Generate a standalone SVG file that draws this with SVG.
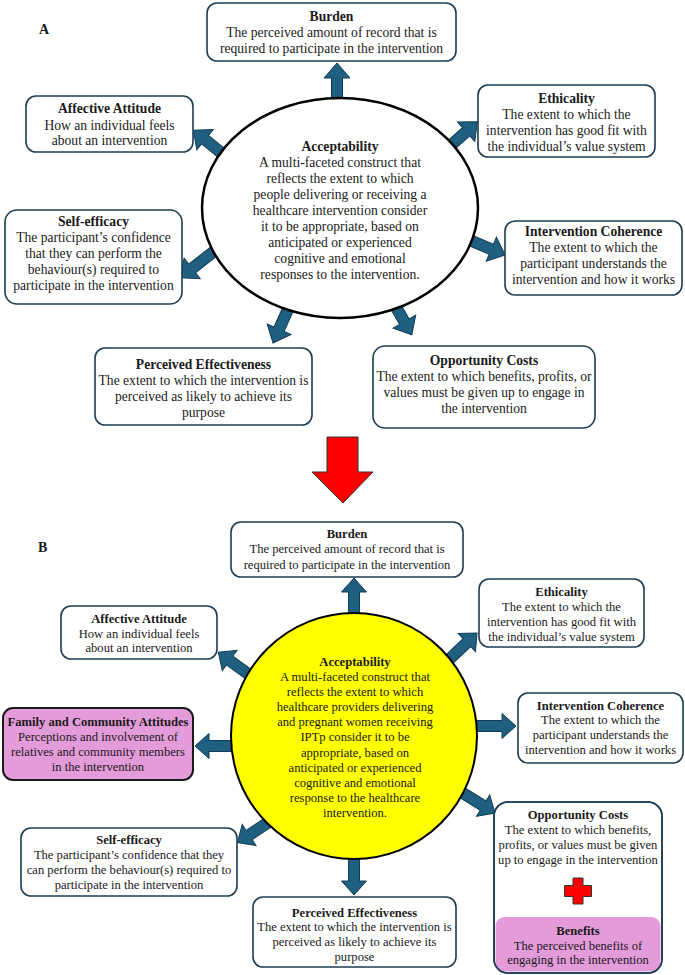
<svg xmlns="http://www.w3.org/2000/svg" width="685" height="975" viewBox="0 0 685 975">
<style>
.box{fill:#fff;stroke:#1d3d52;stroke-width:1.6}
.pink{fill:#e49bda}
.fam{fill:#e49bda;stroke:#1a1a1a;stroke-width:2}
.arr{fill:#1f5f80;stroke:#123c55;stroke-width:1}
text{font-family:"Liberation Serif","Times New Roman",serif;fill:#1a1a1a;text-anchor:middle}
.a{font-size:13.6px}
.b{font-size:12.6px}
.t{font-weight:bold}
.lbl{font-size:14px;font-weight:bold;text-anchor:start}
</style>
<rect width="685" height="975" fill="#fff"/>
<text class="lbl" x="39" y="34">A</text>
<text class="lbl" x="38" y="552">B</text>

<g id="connectors">
<path class="arr" transform="translate(337,108) rotate(-90)" d="M0,-5.5 H30 V-13 L45,0 L30,13 V5.5 H0 Z"/>
<path class="arr" transform="translate(240,168) rotate(-141)" d="M0,-5.5 H45 V-13 L60,0 L45,13 V5.5 H0 Z"/>
<path class="arr" transform="translate(440,155) rotate(-41.7)" d="M0,-5.5 H35 V-13 L50,0 L35,13 V5.5 H0 Z"/>
<path class="arr" transform="translate(460,236) rotate(22.9)" d="M0,-5.5 H34 V-13 L49,0 L34,13 V5.5 H0 Z"/>
<path class="arr" transform="translate(392,300) rotate(60.3)" d="M0,-5.5 H25 V-13 L40,0 L25,13 V5.5 H0 Z"/>
<path class="arr" transform="translate(292,300) rotate(113.8)" d="M0,-5.5 H32 V-13 L47,0 L32,13 V5.5 H0 Z"/>
<path class="arr" transform="translate(222,245) rotate(141.8)" d="M0,-5.5 H38 V-13 L53,0 L38,13 V5.5 H0 Z"/>

<path fill="#ff0000" stroke="#333" stroke-width="1" d="M327,437 H358 V472 H373 L343,503 L312,472 H327 Z"/>

<path class="arr" transform="translate(354,625) rotate(-90)" d="M0,-5.5 H33 V-12.5 L47,0 L33,12.5 V5.5 H0 Z"/>
<path class="arr" transform="translate(262,684) rotate(-144)" d="M0,-5.5 H40 V-12.5 L54,0 L40,12.5 V5.5 H0 Z"/>
<path class="arr" transform="translate(440,668) rotate(-43.4)" d="M0,-5.5 H37 V-12.5 L51,0 L37,12.5 V5.5 H0 Z"/>
<path class="arr" transform="translate(460,726) rotate(0)" d="M0,-5.5 H42 V-12.5 L56,0 L42,12.5 V5.5 H0 Z"/>
<path class="arr" transform="translate(450,785) rotate(31.9)" d="M0,-5.5 H39 V-12.5 L53,0 L39,12.5 V5.5 H0 Z"/>
<path class="arr" transform="translate(354,845) rotate(90)" d="M0,-5.5 H36 V-12.5 L50,0 L36,12.5 V5.5 H0 Z"/>
<path class="arr" transform="translate(275,818) rotate(146.7)" d="M0,-5.5 H31 V-12.5 L45,0 L31,12.5 V5.5 H0 Z"/>
<path class="arr" transform="translate(250,746) rotate(180)" d="M0,-5.5 H41 V-12.5 L55,0 L41,12.5 V5.5 H0 Z"/>
</g>

<!-- Panel A -->
<g id="a-acceptability">
<ellipse cx="340" cy="208" rx="138" ry="110" fill="#fff" stroke="#000" stroke-width="2.5"/>
<text class="a t" x="340" y="151">Acceptability</text>
<text class="a" x="340" y="167">A multi-faceted construct that</text>
<text class="a" x="340" y="183">reflects the extent to which</text>
<text class="a" x="340" y="199">people delivering or receiving a</text>
<text class="a" x="340" y="215">healthcare intervention consider</text>
<text class="a" x="340" y="231">it to be appropriate, based on</text>
<text class="a" x="340" y="247">anticipated or experienced</text>
<text class="a" x="340" y="263">cognitive and emotional</text>
<text class="a" x="340" y="279">responses to the intervention.</text>
</g>
<g id="a-burden">
<rect class="box" x="207" y="3" width="249" height="58" rx="10"/>
<text class="a t" x="331.5" y="21">Burden</text>
<text class="a" x="331.5" y="37">The perceived amount of record that is</text>
<text class="a" x="331.5" y="53">required to participate in the intervention</text>
</g>
<g id="a-affective">
<rect class="box" x="26" y="96" width="167" height="56" rx="10"/>
<text class="a t" x="109.5" y="113">Affective Attitude</text>
<text class="a" x="109.5" y="130">How an individual feels</text>
<text class="a" x="109.5" y="145">about an intervention</text>
</g>
<g id="a-ethicality">
<rect class="box" x="478" y="85" width="177" height="72" rx="10"/>
<text class="a t" x="566.5" y="103">Ethicality</text>
<text class="a" x="566.5" y="119">The extent to which the</text>
<text class="a" x="566.5" y="135">intervention has good fit with</text>
<text class="a" x="566.5" y="151">the individual’s value system</text>
</g>
<g id="a-selfefficacy">
<rect class="box" x="5" y="210" width="177" height="94" rx="12"/>
<text class="a t" x="93.5" y="226">Self-efficacy</text>
<text class="a" x="93.5" y="242">The participant’s confidence</text>
<text class="a" x="93.5" y="258">that they can perform the</text>
<text class="a" x="93.5" y="274">behaviour(s) required to</text>
<text class="a" x="93.5" y="290">participate in the intervention</text>
</g>
<g id="a-coherence">
<rect class="box" x="505" y="221" width="177" height="74" rx="10"/>
<text class="a t" x="593.5" y="236">Intervention Coherence</text>
<text class="a" x="593.5" y="252">The extent to which the</text>
<text class="a" x="593.5" y="268">participant understands the</text>
<text class="a" x="593.5" y="284">intervention and how it works</text>
</g>
<g id="a-effectiveness">
<rect class="box" x="95" y="348" width="217" height="77" rx="10"/>
<text class="a t" x="203.5" y="369">Perceived Effectiveness</text>
<text class="a" x="203.5" y="385">The extent to which the intervention is</text>
<text class="a" x="203.5" y="401">perceived as likely to achieve its</text>
<text class="a" x="203.5" y="417">purpose</text>
</g>
<g id="a-opportunity">
<rect class="box" x="373" y="346" width="222" height="82" rx="12"/>
<text class="a t" x="484" y="365">Opportunity Costs</text>
<text class="a" x="484" y="381">The extent to which benefits, profits, or</text>
<text class="a" x="484" y="397">values must be given up to engage in</text>
<text class="a" x="484" y="413">the intervention</text>
</g>

<!-- Panel B -->
<g id="b-acceptability">
<circle cx="354" cy="736" r="123" fill="#ffff00" stroke="#000" stroke-width="2"/>
<text class="b t" x="355" y="666">Acceptability</text>
<text class="b" x="355" y="681">A multi-faceted construct that</text>
<text class="b" x="355" y="696">reflects the extent to which</text>
<text class="b" x="355" y="711">healthcare providers delivering</text>
<text class="b" x="355" y="726">and pregnant women receiving</text>
<text class="b" x="355" y="741">IPTp consider it to be</text>
<text class="b" x="355" y="757">appropriate, based on</text>
<text class="b" x="355" y="772">anticipated or experienced</text>
<text class="b" x="355" y="787">cognitive and emotional</text>
<text class="b" x="355" y="802">response to the healthcare</text>
<text class="b" x="355" y="817">intervention.</text>
</g>
<g id="b-burden">
<rect class="box" x="231" y="522" width="232" height="55" rx="10"/>
<text class="b t" x="347" y="538">Burden</text>
<text class="b" x="347" y="553">The perceived amount of record that is</text>
<text class="b" x="347" y="569">required to participate in the intervention</text>
</g>
<g id="b-affective">
<rect class="box" x="61" y="606" width="156" height="53" rx="10"/>
<text class="b t" x="139" y="623">Affective Attitude</text>
<text class="b" x="139" y="638">How an individual feels</text>
<text class="b" x="139" y="652">about an intervention</text>
</g>
<g id="b-ethicality">
<rect class="box" x="479" y="579" width="165" height="68" rx="10"/>
<text class="b t" x="561.5" y="596">Ethicality</text>
<text class="b" x="561.5" y="611">The extent to which the</text>
<text class="b" x="561.5" y="626">intervention has good fit with</text>
<text class="b" x="561.5" y="641">the individual’s value system</text>
</g>
<g id="b-coherence">
<rect class="box" x="518" y="693" width="165" height="70" rx="10"/>
<text class="b t" x="600.5" y="710">Intervention Coherence</text>
<text class="b" x="600.5" y="724">The extent to which the</text>
<text class="b" x="600.5" y="739">participant understands the</text>
<text class="b" x="600.5" y="754">intervention and how it works</text>
</g>
<g id="b-family">
<rect class="fam" x="3" y="708" width="190" height="72" rx="10"/>
<text class="b t" x="98" y="726">Family and Community Attitudes</text>
<text class="b" x="98" y="741">Perceptions and involvement of</text>
<text class="b" x="98" y="756">relatives and community members</text>
<text class="b" x="98" y="771">in the intervention</text>
</g>
<g id="b-selfefficacy">
<rect class="box" x="21" y="828" width="216" height="68" rx="10"/>
<text class="b t" x="129" y="844">Self-efficacy</text>
<text class="b" x="129" y="859">The participant’s confidence that they</text>
<text class="b" x="129" y="874">can perform the behaviour(s) required to</text>
<text class="b" x="129" y="889">participate in the intervention</text>
</g>
<g id="b-effectiveness">
<rect class="box" x="253" y="897" width="203" height="70" rx="10"/>
<text class="b t" x="354.5" y="917">Perceived Effectiveness</text>
<text class="b" x="354.5" y="931">The extent to which the intervention is</text>
<text class="b" x="354.5" y="946">perceived as likely to achieve its</text>
<text class="b" x="354.5" y="961">purpose</text>
</g>
<g id="b-opportunity">
<rect class="box" x="494" y="802" width="168" height="171" rx="14"/>
<text class="b t" x="578" y="819">Opportunity Costs</text>
<text class="b" x="578" y="834">The extent to which benefits,</text>
<text class="b" x="578" y="849">profits, or values must be given</text>
<text class="b" x="578" y="864">up to engage in the intervention</text>
<path fill="#ff0000" stroke="#333" stroke-width="1" d="M573,878 H583 V885.5 H591.5 V896.5 H583 V904 H573 V896.5 H564.5 V885.5 H573 Z"/>
</g>
<g id="b-benefits">
<rect class="pink" x="495.5" y="917" width="165" height="54.5" rx="9"/>
<rect x="494" y="802" width="168" height="171" rx="14" fill="none" stroke="#1d3d52" stroke-width="1.6"/>
<text class="b t" x="578" y="935">Benefits</text>
<text class="b" x="578" y="950">The perceived benefits of</text>
<text class="b" x="578" y="964">engaging in the intervention</text>
</g>
</svg>
